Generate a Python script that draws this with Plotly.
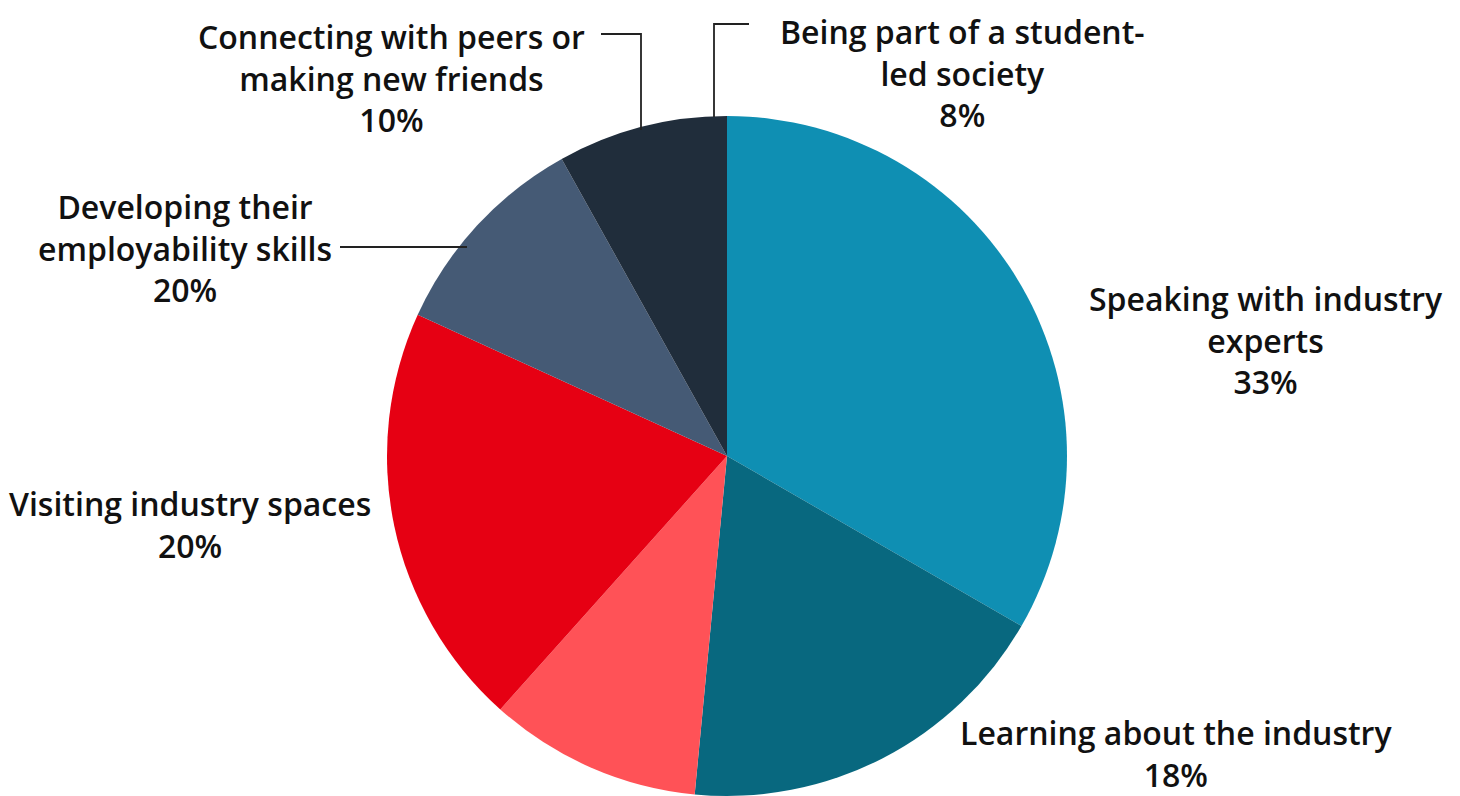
import plotly.graph_objects as go

# Slice data (clockwise from 12 o'clock)
slice_names = ["Speaking with industry experts", "Learning about the industry", "Unlabelled",
               "Visiting industry spaces", "Developing their employability skills",
               "Connecting with peers / student-led society"]
slice_values = [33, 18, 10, 20, 10, 8]
slice_colors = ["#0F8FB3", "#08687F", "#FF5257", "#E60013", "#455A75", "#202D3B"]

# Printed label text (lines)
label_lines = [
    ["Speaking with industry", "experts", "33%"],
    ["Learning about the industry", "18%"],
    ["Visiting industry spaces", "20%"],
    ["Developing their", "employability skills", "20%"],
    ["Connecting with peers or", "making new friends", "10%"],
    ["Being part of a student-", "led society", "8%"],
]
# label block centres in screen pixels
label_pos = [(1266, 340), (1176, 753), (190, 524.5), (185, 247.5), (391, 77.5), (962, 73)]

# Leader lines as pixel polylines
leaders = [
    [(601, 34), (641, 34), (641, 130)],
    [(749, 24), (714, 24), (714, 117)],
    [(340, 247), (467, 247)],
]

W, H = 1460, 796
OFF = 8  # page body margin offset
cx, cy, r = 727, 456, 340


def fx(px):
    return (px - OFF) / W


def fy(py):
    return 1 - (py - OFF) / H


fig = go.Figure(go.Pie(
    labels=slice_names, values=slice_values, sort=False, direction="clockwise",
    rotation=0, marker=dict(colors=slice_colors, line=dict(width=0)),
    textinfo="none", showlegend=False,
    domain=dict(x=[fx(cx - r), fx(cx + r)], y=[fy(cy + r), fy(cy - r)]),
))

annotations = []
for lines, (px, py) in zip(label_lines, label_pos):
    annotations.append(dict(
        text="<br>".join(lines), x=fx(px), y=fy(py), xref="paper", yref="paper",
        xanchor="center", yanchor="middle", align="center", showarrow=False,
        font=dict(family="Open Sans", size=32, color="#111111", weight=600),
    ))

shapes = []
for pts in leaders:
    path = "M " + " L ".join(f"{fx(x)},{fy(y)}" for x, y in pts)
    shapes.append(dict(type="path", path=path, xref="paper", yref="paper",
                       line=dict(color="#222222", width=1.8)))

fig.update_layout(
    width=W, height=H, margin=dict(l=0, r=0, t=0, b=0),
    paper_bgcolor="white", plot_bgcolor="white",
    annotations=annotations, shapes=shapes,
)
fig.write_html("out.html")
